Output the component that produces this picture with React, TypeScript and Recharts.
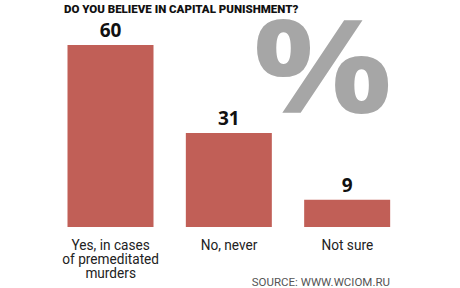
import React from "react";
import { BarChart, Bar, XAxis, YAxis, LabelList, Customized } from "recharts";

const categories = ["Yes, in cases\nof premeditated\nmurders", "No, never", "Not sure"];
const values = [60, 31, 9];
const title = "DO YOU BELIEVE IN CAPITAL PUNISHMENT?";
const source = "SOURCE: WWW.WCIOM.RU";

const data = categories.map((c, i) => ({ name: c, value: values[i] }));

const CatTick = (props: any) => {
  const { x, y, payload } = props;
  const lines = String(payload.value).split("\n");
  return (
    <g transform={`translate(${x},${y + 14.5}) scale(0.91,1)`}>
      <text x={0} y={0} textAnchor="middle" fontFamily="Roboto" fontSize={15} fill="#222">
        {lines.map((l: string, i: number) => (
          <tspan key={i} x={0} dy={i === 0 ? 0 : 14.5}>
            {l}
          </tspan>
        ))}
      </text>
    </g>
  );
};

const Extras = () => (
  <g>
    <text
      transform="translate(322.5,112.5) scale(1.28,1.06)"
      x={0}
      y={0}
      textAnchor="middle"
      fontFamily="Open Sans"
      fontWeight={700}
      fontSize={122}
      fill="#a6a6a6"
    >
      %
    </text>
    <text x={64} y={13} fontFamily="Roboto" fontWeight={900} fontSize={11.5} fill="#111">
      {title}
    </text>
    <text x={390} y={286} textAnchor="end" fontFamily="Roboto" fontSize={11.5} fill="#555">
      {source}
    </text>
  </g>
);

export default function App() {
  return (
    <div style={{ position: "absolute", left: 0, top: 0, background: "#fff" }}>
      <BarChart
        width={460}
        height={288}
        data={data}
        margin={{ top: 45, right: 53.5, bottom: 0, left: 51.5 }}
        barCategoryGap={32}
      >
        <XAxis
          dataKey="name"
          axisLine={false}
          tickLine={false}
          height={61}
          interval={0}
          tick={<CatTick />}
        />
        <YAxis hide domain={[0, 60]} />
        <Customized component={Extras} />
        <Bar dataKey="value" fill="#c15f57" barSize={86} isAnimationActive={false}>
          <LabelList
            dataKey="value"
            position="top"
            offset={8}
            fontFamily="Open Sans"
            fontWeight={700}
            fontSize={19}
            fill="#111"
          />
        </Bar>
      </BarChart>
    </div>
  );
}
